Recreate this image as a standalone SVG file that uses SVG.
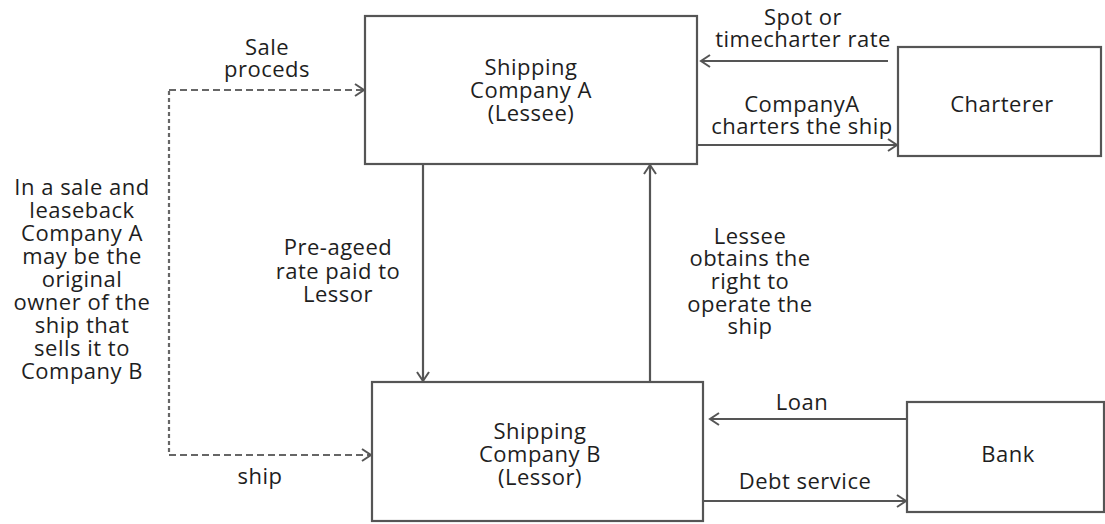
<svg xmlns="http://www.w3.org/2000/svg" width="1105" height="524" viewBox="0 0 1105 524">
<style>
.box{fill:#fff;stroke:#555;stroke-width:2.2}
.ln{fill:none;stroke:#555;stroke-width:2.2}
.dh{fill:none;stroke:#666;stroke-width:2.2;stroke-dasharray:7 4}
.dv{fill:none;stroke:#666;stroke-width:2.2;stroke-dasharray:4 3}
text{font-family:"Open Sans","Liberation Sans",sans-serif;font-size:22px;letter-spacing:0.5px;fill:#1e1e1e;text-anchor:middle}
</style>
<defs>
<marker id="ah" markerWidth="14" markerHeight="14" refX="11" refY="7" orient="auto" markerUnits="userSpaceOnUse">
<path d="M2,1 L11,7 L2,13" fill="none" stroke="#555" stroke-width="2"/>
</marker>
</defs>
<rect width="1105" height="524" fill="#fff"/>
<g id="connectors">
<line class="ln" x1="888" y1="61" x2="701" y2="61" marker-end="url(#ah)"/>
<line class="ln" x1="697" y1="145" x2="897" y2="145" marker-end="url(#ah)"/>
<line class="ln" x1="423" y1="164" x2="423" y2="381" marker-end="url(#ah)"/>
<line class="ln" x1="650" y1="382" x2="650" y2="165" marker-end="url(#ah)"/>
<line class="ln" x1="907" y1="419" x2="710" y2="419" marker-end="url(#ah)"/>
<line class="ln" x1="703" y1="501" x2="906" y2="501" marker-end="url(#ah)"/>
<line class="dv" x1="169" y1="91" x2="169" y2="454"/>
<line class="dh" x1="169" y1="90" x2="364" y2="90" marker-end="url(#ah)"/>
<line class="dh" x1="169" y1="455" x2="371" y2="455" marker-end="url(#ah)"/>
</g>
<g id="nodeA"><rect class="box" x="365" y="16" width="332" height="148"/>
<text x="531" y="75">Shipping</text><text x="531" y="98">Company A</text><text x="531" y="121">(Lessee)</text></g>
<g id="charterer"><rect class="box" x="898" y="47" width="203" height="109"/>
<text x="1002" y="112">Charterer</text></g>
<g id="nodeB"><rect class="box" x="372" y="382" width="331" height="139"/>
<text x="540" y="439">Shipping</text><text x="540" y="462">Company B</text><text x="540" y="485">(Lessor)</text></g>
<g id="bank"><rect class="box" x="907" y="402" width="197" height="110"/>
<text x="1008" y="462">Bank</text></g>
<g id="labels">
<text x="267" y="55">Sale</text><text x="267" y="77">proceds</text>
<text x="803" y="25">Spot or</text><text x="803" y="47">timecharter rate</text>
<text x="802" y="112">CompanyA</text><text x="802" y="134">charters the ship</text>
<text x="82" y="195">In a sale and</text><text x="82" y="218">leaseback</text><text x="82" y="241">Company A</text><text x="82" y="264">may be the</text><text x="82" y="287">original</text><text x="82" y="310">owner of the</text><text x="82" y="333">ship that</text><text x="82" y="356">sells it to</text><text x="82" y="379">Company B</text>
<text x="338" y="255">Pre-ageed</text><text x="338" y="279">rate paid to</text><text x="338" y="302">Lessor</text>
<text x="750" y="244">Lessee</text><text x="750" y="266">obtains the</text><text x="750" y="289">right to</text><text x="750" y="312">operate the</text><text x="750" y="334">ship</text>
<text x="260" y="484">ship</text>
<text x="802" y="410">Loan</text>
<text x="805" y="489">Debt service</text>
</g>
</svg>
